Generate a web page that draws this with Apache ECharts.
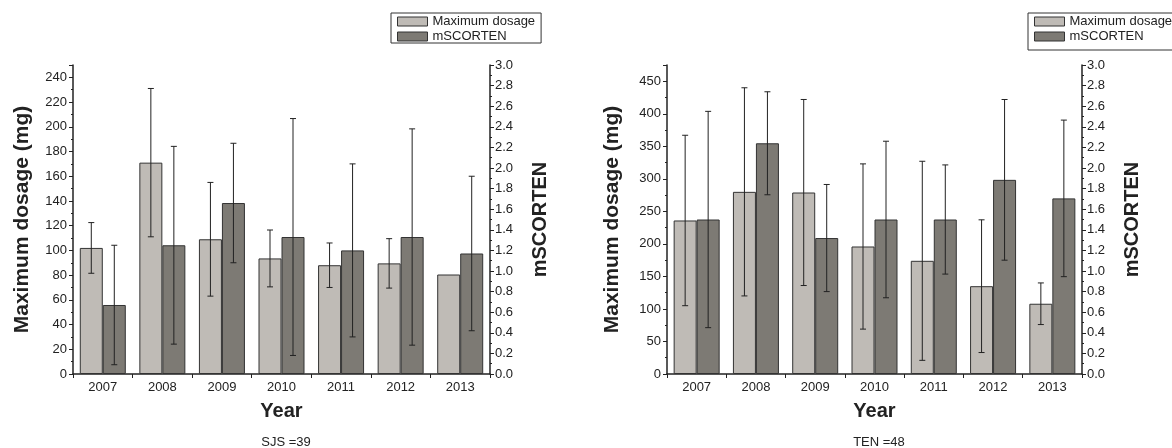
<!DOCTYPE html>
<html>
<head>
<meta charset="utf-8">
<script src="https://cdn.jsdelivr.net/npm/echarts@6/dist/echarts.min.js"></script>
<style>
html,body{margin:0;padding:0;background:#fff;}
#chart{width:1172px;height:448px;}
</style>
</head>
<body>
<div id="chart"></div>
<script>
// ---- data ----
const years = ['2007', '2008', '2009', '2010', '2011', '2012', '2013'];
const seriesNames = ['Maximum dosage', 'mSCORTEN'];

// SJS (n=39)
const sjsDose = [102, 171, 109, 93.5, 88, 89.5, 80.5];
const sjsDoseSD = [20.5, 60, 46, 23, 18, 20, null];
const sjsScorten = [0.67, 1.25, 1.66, 1.33, 1.2, 1.33, 1.17];
const sjsScortenSD = [0.58, 0.96, 0.58, 1.15, 0.84, 1.05, 0.75];

// TEN (n=48)
const tenDose = [236, 280, 279, 196, 174, 135, 108];
const tenDoseSD = [131, 160, 143, 127, 153, 102, 32];
const tenScorten = [1.5, 2.24, 1.32, 1.5, 1.5, 1.885, 1.705];
const tenScortenSD = [1.05, 0.5, 0.52, 0.76, 0.53, 0.78, 0.76];

// axis ranges
const sjsDoseMax = 250, sjsDoseStep = 20;
const tenDoseMax = 475, tenDoseStep = 50;
const scortenMax = 3.0, scortenStep = 0.2;

const captions = ['SJS =39', 'TEN =48'];
const yNameLeft = 'Maximum dosage (mg)';
const yNameRight = 'mSCORTEN';
const xName = 'Year';

// ---- styling ----
const FONT = "'Liberation Sans', Arial, sans-serif";
const INK = '#222';
const LIGHT = '#bfbbb6';
const DARK = '#7d7a74';
const BAR_W = 23;

function errData(mean, sd) {
  return mean.map((m, i) => sd[i] == null ? null : [i, m - sd[i], m + sd[i]]).filter(d => d);
}

function errRender(offset) {
  return function (params, api) {
    const x = api.value(0);
    const pHi = api.coord([x, api.value(2)]);
    const pLo = api.coord([x, api.value(1)]);
    const cx = pHi[0] + offset;
    const cap = 3;
    const st = { stroke: INK, lineWidth: 1 };
    return {
      type: 'group',
      children: [
        { type: 'line', shape: { x1: cx, y1: pHi[1], x2: cx, y2: pLo[1] }, style: st },
        { type: 'line', shape: { x1: cx - cap, y1: pHi[1], x2: cx + cap, y2: pHi[1] }, style: st },
        { type: 'line', shape: { x1: cx - cap, y1: pLo[1], x2: cx + cap, y2: pLo[1] }, style: st }
      ]
    };
  };
}

function xAxis(gridIndex) {
  return {
    type: 'category', gridIndex, data: years,
    name: xName, nameLocation: 'middle', nameGap: 27,
    nameTextStyle: { fontFamily: FONT, fontSize: 20, fontWeight: 'bold', color: INK },
    axisLine: { show: true, lineStyle: { color: INK, width: 1.5 } },
    axisTick: { show: true, length: 4, lineStyle: { color: INK } },
    axisLabel: { fontFamily: FONT, fontSize: 13, color: INK, margin: 7 },
    splitLine: { show: false }
  };
}

function doseAxis(gridIndex, max, step, gap) {
  return {
    type: 'value', gridIndex, position: 'left', min: 0, max: max, interval: step,
    name: yNameLeft, nameLocation: 'middle', nameRotate: 90, nameGap: gap,
    nameTextStyle: { fontFamily: FONT, fontSize: 21, fontWeight: 'bold', color: INK },
    axisLine: { show: true, lineStyle: { color: INK, width: 1.5 } },
    axisTick: { show: true, length: 4, lineStyle: { color: INK } },
    minorTick: { show: true, splitNumber: 2, length: 2, lineStyle: { color: INK } },
    axisLabel: { fontFamily: FONT, fontSize: 13, color: INK, margin: 6, showMaxLabel: false },
    splitLine: { show: false }, minorSplitLine: { show: false }
  };
}

function scortenAxis(gridIndex) {
  return {
    type: 'value', gridIndex, position: 'right', min: 0, max: scortenMax, interval: scortenStep,
    name: yNameRight, nameLocation: 'middle', nameRotate: 90, nameGap: 40,
    nameTextStyle: { fontFamily: FONT, fontSize: 20, fontWeight: 'bold', color: INK },
    axisLine: { show: true, lineStyle: { color: INK, width: 1.5 } },
    axisTick: { show: true, length: 4, lineStyle: { color: INK } },
    minorTick: { show: true, splitNumber: 2, length: 2, lineStyle: { color: INK } },
    axisLabel: { fontFamily: FONT, fontSize: 13, color: INK, margin: 5, formatter: v => v.toFixed(1) },
    splitLine: { show: false }, minorSplitLine: { show: false }
  };
}

function bars(name, data, xi, yi, color) {
  return {
    type: 'bar', name, data, xAxisIndex: xi, yAxisIndex: yi,
    barWidth: BAR_W, barGap: '0%',
    itemStyle: { color, borderColor: '#333', borderWidth: 1 },
    emphasis: { disabled: true }, z: 2
  };
}

function errs(name, data, xi, yi, offset) {
  return {
    type: 'custom', name, data, xAxisIndex: xi, yAxisIndex: yi,
    encode: { x: 0, y: [1, 2] }, renderItem: errRender(offset), z: 5, silent: true
  };
}

function legend(left, padBottom) {
  return {
    left, top: 13, orient: 'vertical', icon: 'rect',
    itemWidth: 30, itemHeight: 9, itemGap: 2,
    padding: [2, 6, padBottom, 6],
    borderColor: '#333', borderWidth: 1,
    itemStyle: { borderColor: '#333', borderWidth: 1 },
    textStyle: { fontFamily: FONT, fontSize: 13, color: INK, lineHeight: 13 },
    data: seriesNames, selectedMode: false
  };
}

const chart = echarts.init(document.getElementById('chart'));
chart.setOption({
  animation: false,
  backgroundColor: '#fff',
  title: [
    { text: captions[0], left: 281, top: 431, textAlign: 'center',
      textStyle: { fontFamily: FONT, fontSize: 13, fontWeight: 'normal', color: INK } },
    { text: captions[1], left: 874, top: 431, textAlign: 'center',
      textStyle: { fontFamily: FONT, fontSize: 13, fontWeight: 'normal', color: INK } }
  ],
  legend: [legend(391, 0), legend(1028, 7)],
  grid: [
    { left: 73, right: 682, top: 65, bottom: 74 },
    { left: 667, right: 90, top: 65, bottom: 74 }
  ],
  xAxis: [xAxis(0), xAxis(1)],
  yAxis: [
    doseAxis(0, sjsDoseMax, sjsDoseStep, 40),
    scortenAxis(0),
    doseAxis(1, tenDoseMax, tenDoseStep, 44),
    scortenAxis(1)
  ],
  series: [
    bars(seriesNames[0], sjsDose, 0, 0, LIGHT),
    bars(seriesNames[1], sjsScorten, 0, 1, DARK),
    bars(seriesNames[0], tenDose, 1, 2, LIGHT),
    bars(seriesNames[1], tenScorten, 1, 3, DARK),
    errs('err-sjs-dose', errData(sjsDose, sjsDoseSD), 0, 0, -BAR_W / 2),
    errs('err-sjs-scorten', errData(sjsScorten, sjsScortenSD), 0, 1, BAR_W / 2),
    errs('err-ten-dose', errData(tenDose, tenDoseSD), 1, 2, -BAR_W / 2),
    errs('err-ten-scorten', errData(tenScorten, tenScortenSD), 1, 3, BAR_W / 2)
  ]
});
</script>
</body>
</html>
